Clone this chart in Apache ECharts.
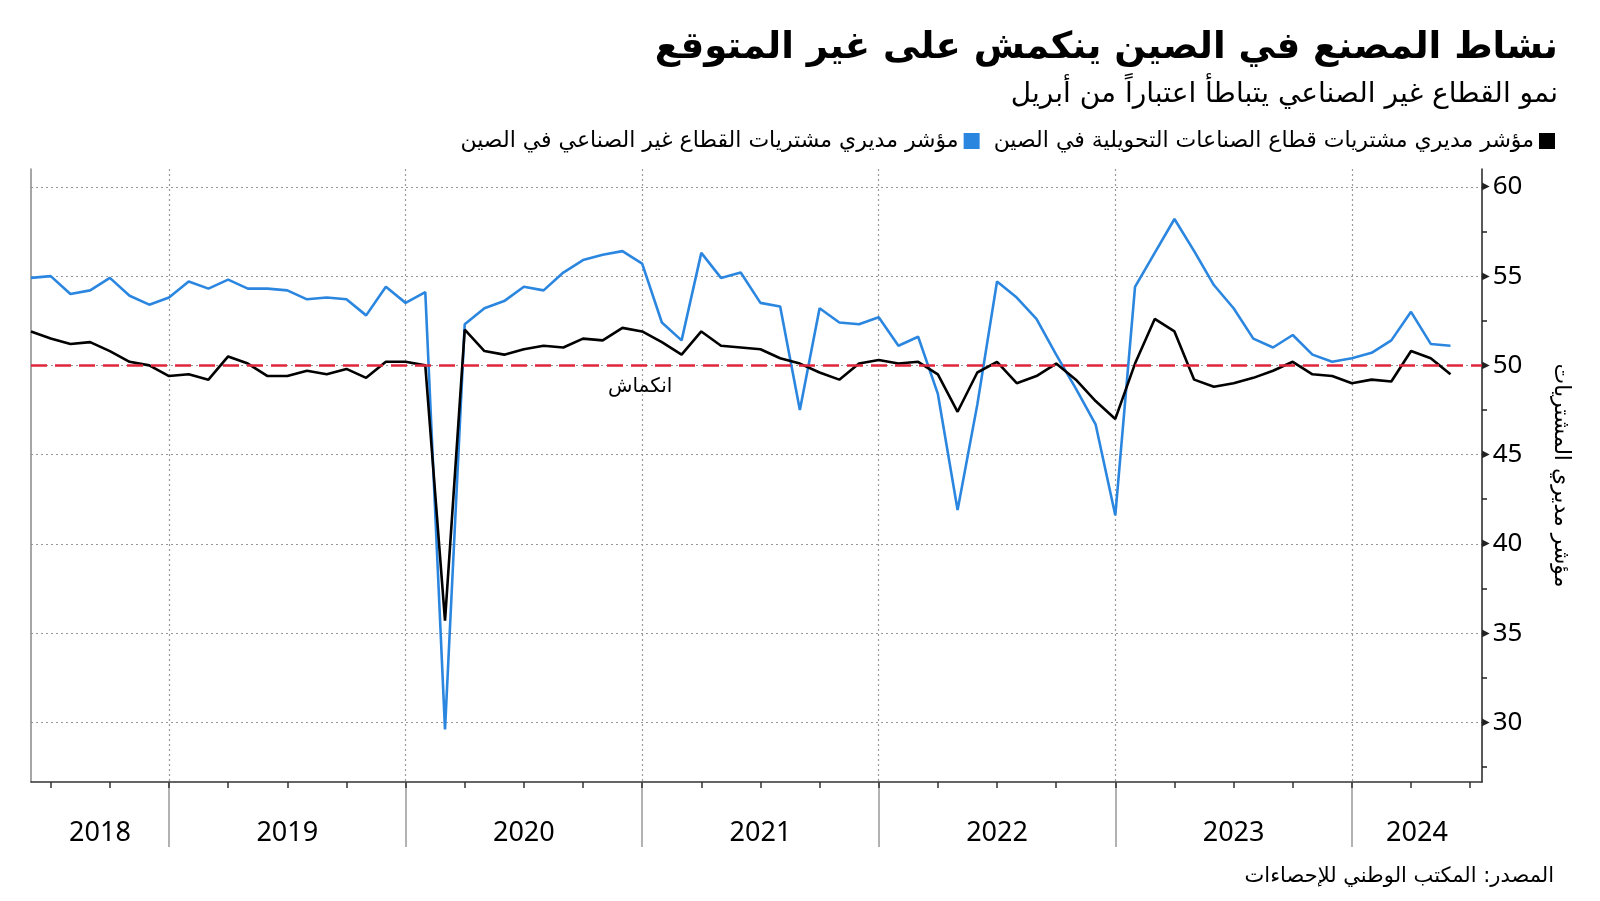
<!DOCTYPE html>
<html><head><meta charset="utf-8">
<script src="https://cdn.jsdelivr.net/npm/echarts@6/dist/echarts.min.js"></script>
<style>html,body{margin:0;padding:0;background:#fff}#c{width:1600px;height:901px;direction:rtl}</style>
</head><body><div id="c" dir="rtl"></div>
<script>
// Monthly readings, May 2018 – May 2024
const startYear = 2018, startMonth = 5, monthCount = 73;
const months = [];
for (let i = 0; i < monthCount; i++) {
  const m = (startMonth - 1 + i) % 12 + 1;
  const y = startYear + Math.floor((startMonth - 1 + i) / 12);
  months.push(y + '-' + String(m).padStart(2, '0'));
}
const manufacturing = [
  51.9, 51.5, 51.2, 51.3, 50.8, 50.2, 50.0, 49.4,
  49.5, 49.2, 50.5, 50.1, 49.4, 49.4, 49.7, 49.5, 49.8, 49.3, 50.2, 50.2,
  50.0, 35.7, 52.0, 50.8, 50.6, 50.9, 51.1, 51.0, 51.5, 51.4, 52.1, 51.9,
  51.3, 50.6, 51.9, 51.1, 51.0, 50.9, 50.4, 50.1, 49.6, 49.2, 50.1, 50.3,
  50.1, 50.2, 49.5, 47.4, 49.6, 50.2, 49.0, 49.4, 50.1, 49.2, 48.0, 47.0,
  50.1, 52.6, 51.9, 49.2, 48.8, 49.0, 49.3, 49.7, 50.2, 49.5, 49.4, 49.0,
  49.2, 49.1, 50.8, 50.4, 49.5
];
const nonManufacturing = [
  54.9, 55.0, 54.0, 54.2, 54.9, 53.9, 53.4, 53.8,
  54.7, 54.3, 54.8, 54.3, 54.3, 54.2, 53.7, 53.8, 53.7, 52.8, 54.4, 53.5,
  54.1, 29.6, 52.3, 53.2, 53.6, 54.4, 54.2, 55.2, 55.9, 56.2, 56.4, 55.7,
  52.4, 51.4, 56.3, 54.9, 55.2, 53.5, 53.3, 47.5, 53.2, 52.4, 52.3, 52.7,
  51.1, 51.6, 48.4, 41.9, 47.8, 54.7, 53.8, 52.6, 50.6, 48.7, 46.7, 41.6,
  54.4, 56.3, 58.2, 56.4, 54.5, 53.2, 51.5, 51.0, 51.7, 50.6, 50.2, 50.4,
  50.7, 51.4, 53.0, 51.2, 51.1
];
const yearLabels = ['2018', '2019', '2020', '2021', '2022', '2023', '2024'];
const yTickLabels = [30, 35, 40, 45, 50, 55, 60];
const yAllTicks = [27.5, 30, 32.5, 35, 37.5, 40, 42.5, 45, 47.5, 50, 52.5, 55, 57.5, 60];
const threshold = 50;
const contractionLabel = 'انكماش';

const titleText = 'نشاط المصنع في الصين ينكمش على غير المتوقع';
const subtitleText = 'نمو القطاع غير الصناعي يتباطأ اعتباراً من أبريل';
const sourceText = 'المصدر: المكتب الوطني للإحصاءات';
const nameMfg = 'مؤشر مديري مشتريات قطاع الصناعات التحويلية في الصين';
const nameNonMfg = 'مؤشر مديري مشتريات القطاع غير الصناعي في الصين';

const X_MAX = 73.6, Y_MIN = 26.66, Y_MAX = 61.0;

// derived tick positions (month indices)
const yearBoundaries = [], quarterTicks = [];
months.forEach((s, i) => {
  const m = +s.slice(5);
  if (m === 12) yearBoundaries.push(i);
  if (m % 3 === 0) quarterTicks.push(i);
});
{
  let i = monthCount; let m = +months[monthCount - 1].slice(5) % 12 + 1;
  while (i <= X_MAX) { if (m % 3 === 0) quarterTicks.push(i); i++; m = m % 12 + 1; }
}
const yearCenters = yearLabels.map(y => {
  const idx = months.map((s, i) => s.startsWith(y) ? i : -1).filter(i => i >= 0);
  const a = Math.max(0, idx[0] - 1);
  const b = +months[idx[idx.length - 1]].slice(5) === 12 ? idx[idx.length - 1] : X_MAX;
  return (a + b) / 2;
});

const AR = "'DejaVu Sans', sans-serif";
const NUM = "'Noto Sans', 'DejaVu Sans', sans-serif";

const chart = echarts.init(document.getElementById('c'), null, {renderer: 'canvas'});
chart.setOption({
  backgroundColor: '#fff',
  animation: false,
  title: [{
    text: titleText, right: 37, top: 25,
    textStyle: {fontFamily: AR, fontSize: 37, fontWeight: 'bold', color: '#000'}
  }, {
    text: subtitleText, right: 37, top: 76,
    textStyle: {fontFamily: AR, fontSize: 28, fontWeight: 'normal', color: '#000'}
  }, {
    text: sourceText, right: 41, top: 861,
    textStyle: {fontFamily: AR, fontSize: 21, fontWeight: 'normal', color: '#000'}
  }],
  legend: {
    data: [nameNonMfg, nameMfg],
    right: 40, top: 125, align: 'right', icon: 'rect',
    itemWidth: 16, itemHeight: 16, itemGap: 14,
    textStyle: {fontFamily: AR, fontSize: 22, color: '#000'}
  },
  grid: {left: 31, right: 118, top: 169, bottom: 119, containLabel: false},
  xAxis: [{
    type: 'value', min: 0, max: X_MAX, position: 'bottom',
    axisLine: {show: true, onZero: false, lineStyle: {color: '#333', width: 1.5}},
    axisTick: {show: true, customValues: yearBoundaries, length: 65, lineStyle: {color: '#999', width: 1.5}},
    axisLabel: {customValues: yearCenters, margin: 38, fontFamily: NUM, fontSize: 27, color: '#000',
      formatter: v => yearLabels[yearCenters.indexOf(v)] || ''},
    splitLine: {show: true, lineStyle: {color: '#999', width: 1.2, type: [2, 3]}}
  }, {
    type: 'value', min: 0, max: X_MAX, position: 'bottom',
    axisLine: {show: false, onZero: false},
    axisTick: {show: true, customValues: quarterTicks, length: 6, lineStyle: {color: '#333', width: 1.5}},
    axisLabel: {show: false},
    splitLine: {show: false}
  }],
  yAxis: [{
    type: 'value', min: Y_MIN, max: Y_MAX, position: 'right',
    name: 'مؤشر مديري المشتريات', nameLocation: 'middle', nameRotate: -90, nameGap: 68,
    nameTextStyle: {fontFamily: AR, fontSize: 22, color: '#000'},
    axisLine: {show: true, onZero: false, lineStyle: {color: '#222', width: 1.5}},
    axisTick: {show: true, customValues: yAllTicks, length: 5, lineStyle: {color: '#222', width: 1.5}},
    axisLabel: {customValues: yTickLabels, margin: 0, color: '#000',
      formatter: v => '{t|▶}{v|' + v + '}',
      rich: {t: {fontSize: 10, color: '#222', fontFamily: 'DejaVu Sans', padding: [0, 3, 0, 0]},
             v: {fontSize: 26, fontFamily: NUM, color: '#000'}}},
    splitLine: {show: false}
  }, {
    type: 'value', min: Y_MIN, max: Y_MAX, position: 'left',
    axisLine: {show: true, onZero: false, lineStyle: {color: '#888', width: 1.5}},
    axisTick: {show: false, customValues: yTickLabels},
    axisLabel: {show: false, customValues: yTickLabels},
    splitLine: {show: true, lineStyle: {color: '#999', width: 1.2, type: [2, 3]}}
  }],
  series: [{
    name: nameNonMfg, type: 'line', xAxisIndex: 0, yAxisIndex: 0,
    data: nonManufacturing.map((v, i) => [i, v]),
    showSymbol: false, symbol: 'none', color: '#2b86e0',
    lineStyle: {color: '#2b86e0', width: 2.6}
  }, {
    name: nameMfg, type: 'line', xAxisIndex: 0, yAxisIndex: 0,
    data: manufacturing.map((v, i) => [i, v]),
    showSymbol: false, symbol: 'none', color: '#000',
    lineStyle: {color: '#000', width: 2.6},
    markLine: {
      silent: true, symbol: ['none', 'none'], label: {show: false},
      lineStyle: {color: '#e0263d', width: 2.5, type: [16, 8]},
      data: [{yAxis: threshold}]
    },
    markPoint: {
      silent: true, symbol: 'circle', symbolSize: 0,
      label: {show: true, position: 'inside', formatter: contractionLabel,
        fontFamily: AR, fontSize: 20, color: '#000'},
      data: [{coord: [30.9, 48.8]}]
    }
  }]
});
</script></body></html>
